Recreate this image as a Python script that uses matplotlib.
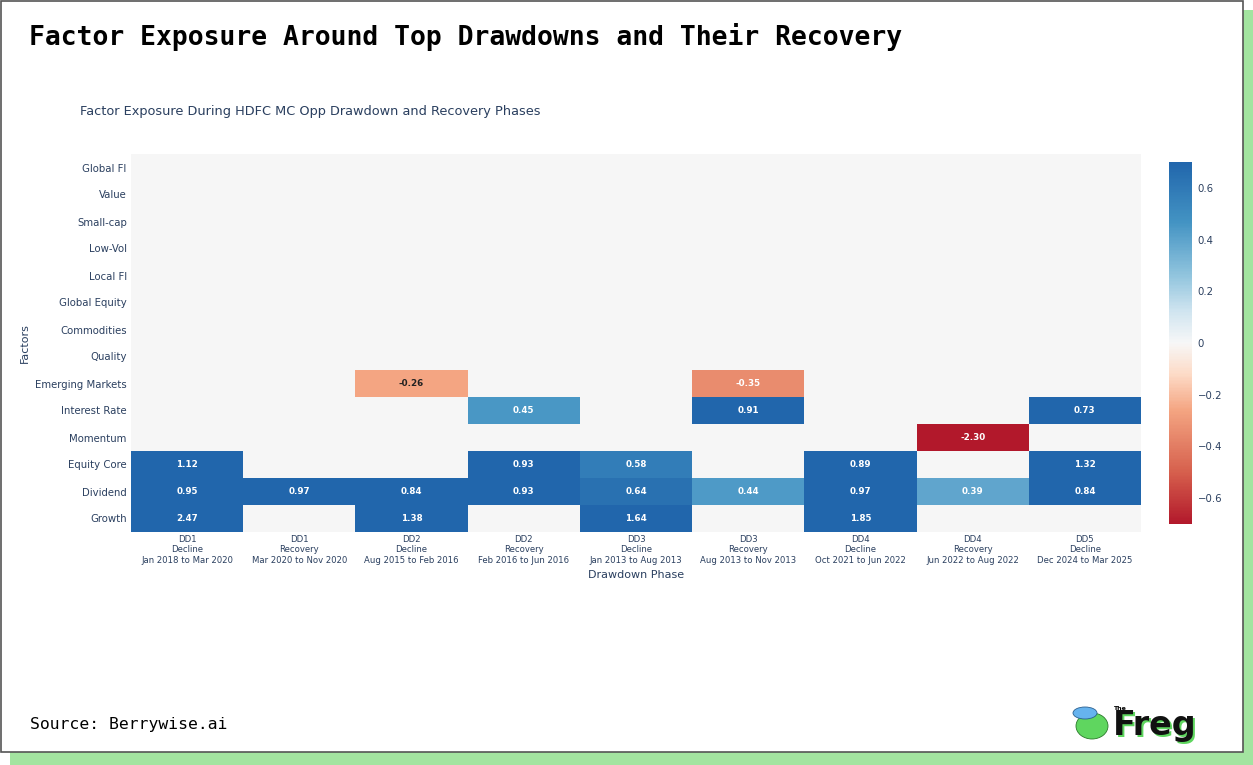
import numpy as np
import matplotlib.pyplot as plt
from matplotlib.colors import LinearSegmentedColormap, to_rgb
from matplotlib.patches import Rectangle, Ellipse

# rows bottom -> top
factors = ["Growth", "Dividend", "Equity Core", "Momentum", "Interest Rate",
           "Emerging Markets", "Quality", "Commodities", "Global Equity",
           "Local FI", "Low-Vol", "Small-cap", "Value", "Global FI"]

phases = ["DD1\nDecline\nJan 2018 to Mar 2020",
          "DD1\nRecovery\nMar 2020 to Nov 2020",
          "DD2\nDecline\nAug 2015 to Feb 2016",
          "DD2\nRecovery\nFeb 2016 to Jun 2016",
          "DD3\nDecline\nJan 2013 to Aug 2013",
          "DD3\nRecovery\nAug 2013 to Nov 2013",
          "DD4\nDecline\nOct 2021 to Jun 2022",
          "DD4\nRecovery\nJun 2022 to Aug 2022",
          "DD5\nDecline\nDec 2024 to Mar 2025"]

nan = np.nan
# one list per factor, across the 9 phases
growth        = [2.47, nan, 1.38, nan, 1.64, nan, 1.85, nan, nan]
dividend      = [0.95, 0.97, 0.84, 0.93, 0.64, 0.44, 0.97, 0.39, 0.84]
equity_core   = [1.12, nan, nan, 0.93, 0.58, nan, 0.89, nan, 1.32]
momentum      = [nan, nan, nan, nan, nan, nan, nan, -2.30, nan]
interest_rate = [nan, nan, nan, 0.45, nan, 0.91, nan, nan, 0.73]
emerging      = [nan, nan, -0.26, nan, nan, -0.35, nan, nan, nan]
empty         = [nan] * 9

z = np.array([growth, dividend, equity_core, momentum, interest_rate, emerging]
             + [empty] * 8)

vlim = 0.7
rdbu = ['#b2182b', '#d6604d', '#f4a582', '#fddbc7', '#f7f7f7',
        '#d1e5f0', '#92c5de', '#4393c3', '#2166ac']
# colour stops (data values)
stops = [-0.7, -0.5, -0.26, -0.12, 0.0, 0.12, 0.26, 0.47, 0.7]
cmap = LinearSegmentedColormap.from_list(
    "rdbu9", [((s + vlim) / (2 * vlim), c) for s, c in zip(stops, rdbu)])

txt = '#2a3f5f'

fig = plt.figure(figsize=(12.53, 7.65), dpi=100)

# card frame with green shadow
fig.patches.append(Rectangle((10 / 1253, 0), 1243 / 1253, 755 / 765, transform=fig.transFigure,
                             facecolor='#a3e4a0', edgecolor='none', zorder=0))
fig.patches.append(Rectangle((0.5 / 1253, 13 / 765), 1242 / 1253, 751 / 765, transform=fig.transFigure,
                             facecolor='white', edgecolor='#555555', linewidth=1.2, zorder=1))

ax = fig.add_axes([131 / 1253, 1 - 532 / 765, 1010 / 1253, 378 / 765])
ax.set_facecolor('#f6f6f6')
ax.set_zorder(2)
mesh = ax.pcolormesh(np.ma.masked_invalid(z), cmap=cmap, vmin=-vlim, vmax=vlim,
                     edgecolors='none')

for i in range(z.shape[0]):
    for j in range(z.shape[1]):
        v = z[i, j]
        if np.isnan(v):
            continue
        r, g, b = to_rgb(cmap((np.clip(v, -vlim, vlim) + vlim) / (2 * vlim)))
        lum = 0.299 * r + 0.587 * g + 0.114 * b
        ax.text(j + 0.5, i + 0.5, f"{v:.2f}", ha='center', va='center',
                fontsize=6.3, fontweight='bold',
                color='#222222' if lum > 0.68 else 'white')

ax.set_xlim(0, z.shape[1])
ax.set_ylim(0, z.shape[0])
ax.set_xticks(np.arange(len(phases)) + 0.5)
ax.set_xticklabels(phases, fontsize=6.1, color=txt, linespacing=1.2)
ax.set_yticks(np.arange(len(factors)) + 0.5)
ax.set_yticklabels(factors, fontsize=7.3, color=txt)
ax.tick_params(length=0, pad=3)
ax.tick_params(axis='x', pad=2)
for s in ax.spines.values():
    s.set_visible(False)
ax.set_xlabel("Drawdown Phase", fontsize=8, color=txt, labelpad=4)
ax.set_ylabel("Factors", fontsize=8, color=txt)
ax.yaxis.set_label_coords(-0.1, 0.5)

cax = fig.add_axes([1169 / 1253, 1 - 524 / 765, 23 / 1253, 362 / 765])
cax.set_zorder(2)
cb = fig.colorbar(mesh, cax=cax, ticks=[-0.6, -0.4, -0.2, 0, 0.2, 0.4, 0.6])
cb.outline.set_visible(False)
cb.ax.tick_params(length=0, labelsize=7.3, labelcolor=txt, pad=4)
cb.ax.set_yticklabels(['\u22120.6', '\u22120.4', '\u22120.2', '0', '0.2', '0.4', '0.6'])

# titles
fig.text(29 / 1253, 1 - 37 / 765, "Factor Exposure Around Top Drawdowns and Their Recovery",
         fontsize=19, fontweight='bold', family='DejaVu Sans Mono', va='center', zorder=3)
fig.text(80 / 1253, 1 - 111 / 765, "Factor Exposure During HDFC MC Opp Drawdown and Recovery Phases",
         fontsize=9.3, color=txt, va='center', zorder=3)
fig.text(30 / 1253, 1 - 724 / 765, "Source: Berrywise.ai", fontsize=11.8,
         family='DejaVu Sans Mono', va='center', zorder=3)

# small logo
fig.patches.append(Ellipse((1092 / 1253, 1 - 726 / 765), 32 / 1253, 26 / 765,
                           transform=fig.transFigure, facecolor='#5fd65f', edgecolor='#2a7a2a',
                           linewidth=0.6, zorder=3))
fig.patches.append(Ellipse((1085 / 1253, 1 - 713 / 765), 24 / 1253, 12 / 765,
                           transform=fig.transFigure, facecolor='#66b3ee', edgecolor='#2a5f8f',
                           linewidth=0.6, zorder=4))
fig.text(1113 / 1253, 1 - 709 / 765, "The", fontsize=4.5, fontweight='bold', va='center', zorder=4)
fig.text(1115 / 1253, 1 - 728 / 765, "Freg", fontsize=24, fontweight='bold', color='#5fd65f',
         family='DejaVu Sans', va='center', zorder=3)
fig.text(1113 / 1253, 1 - 726 / 765, "Freg", fontsize=24, fontweight='bold', color='#111111',
         family='DejaVu Sans', va='center', zorder=4)

fig.savefig("out.png", dpi=100)
